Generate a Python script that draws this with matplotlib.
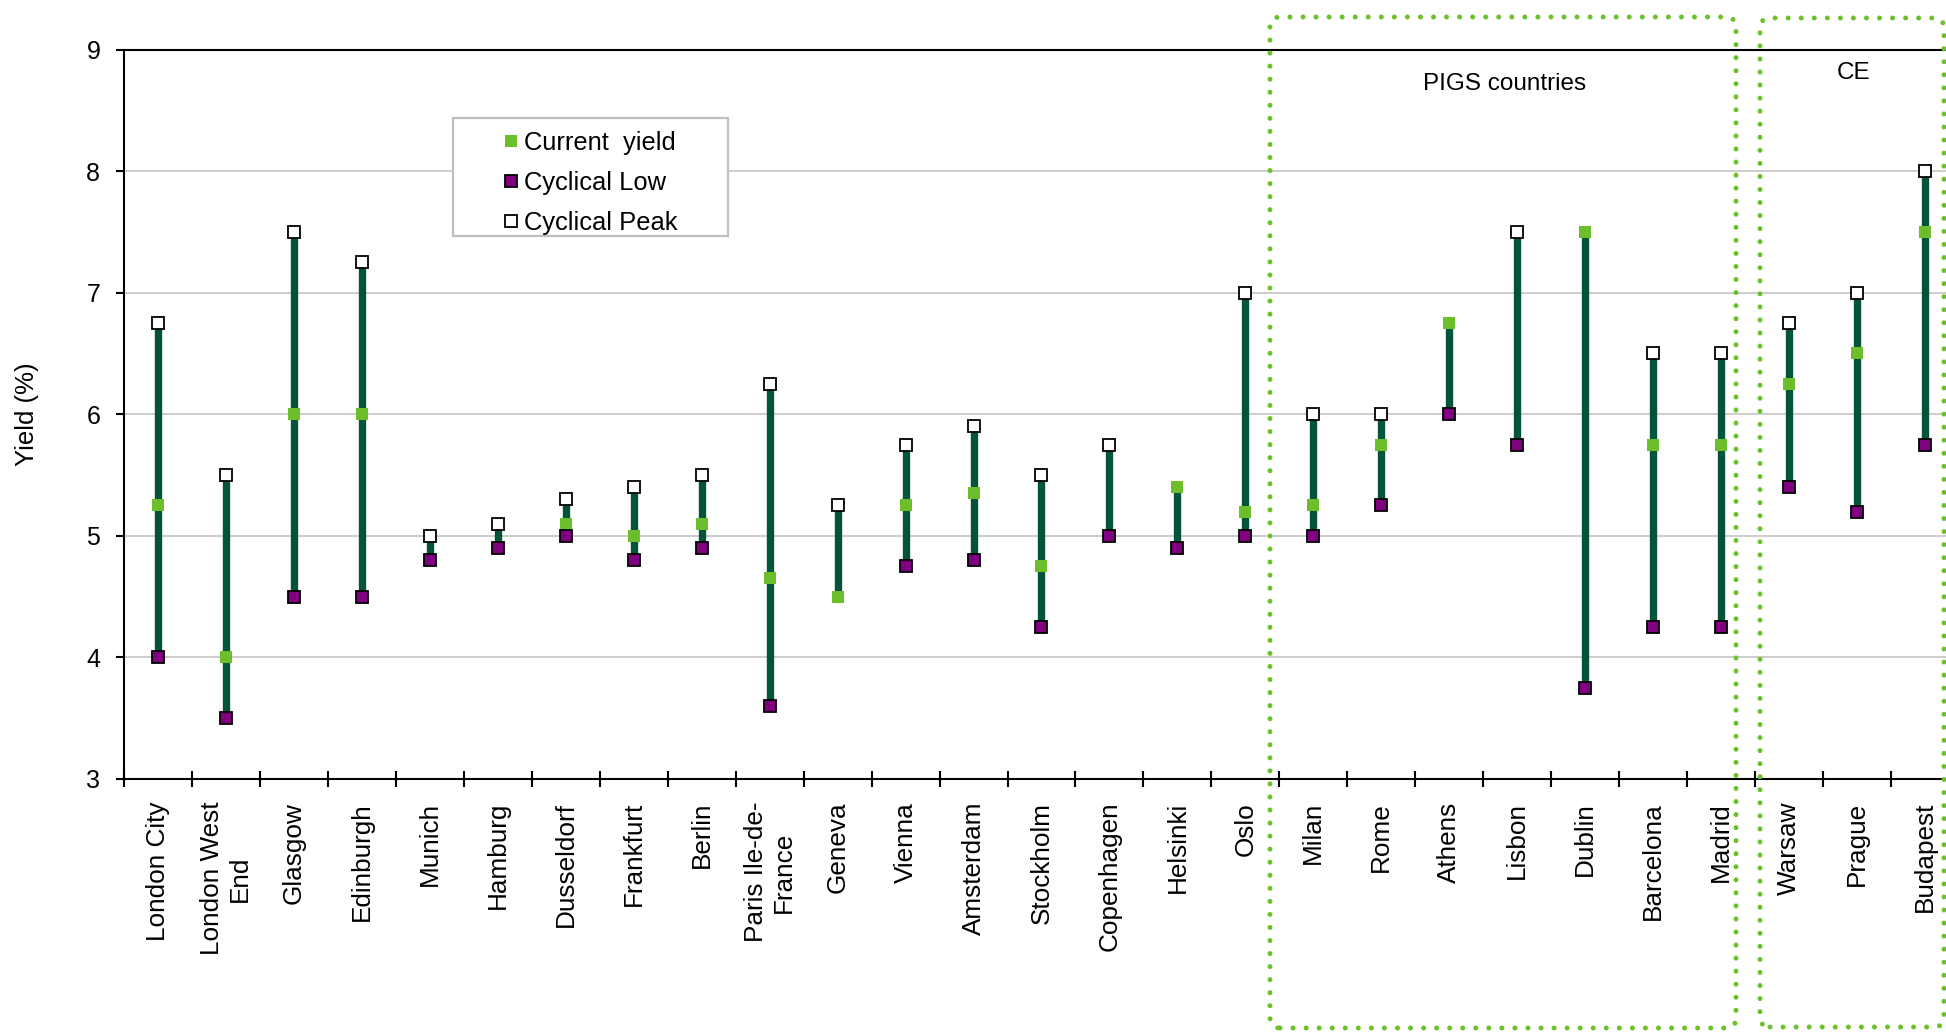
import numpy as np
import matplotlib.pyplot as plt
from matplotlib.lines import Line2D
from matplotlib.patches import FancyBboxPatch, Rectangle

plt.rcParams['font.family'] = ['Liberation Sans', 'DejaVu Sans']   # 类似 Arial 的字体

#数据
cities = ['London City', 'London West\nEnd', 'Glasgow', 'Edinburgh', 'Munich', 'Hamburg',
          'Dusseldorf', 'Frankfurt', 'Berlin', 'Paris Ile-de-\nFrance', 'Geneva', 'Vienna',
          'Amsterdam', 'Stockholm', 'Copenhagen', 'Helsinki', 'Oslo', 'Milan', 'Rome',
          'Athens', 'Lisbon', 'Dublin', 'Barcelona', 'Madrid', 'Warsaw', 'Prague', 'Budapest']
nan = np.nan
current_yield = [5.25, 4.0, 6.0, 6.0, nan, nan, 5.1, 5.0, 5.1, 4.65, 4.5, 5.25, 5.35, 4.75,
                 nan, 5.4, 5.2, 5.25, 5.75, 6.75, nan, 7.5, 5.75, 5.75, 6.25, 6.5, 7.5]
cyclical_low = [4.0, 3.5, 4.5, 4.5, 4.8, 4.9, 5.0, 4.8, 4.9, 3.6, nan, 4.75, 4.8, 4.25,
                5.0, 4.9, 5.0, 5.0, 5.25, 6.0, 5.75, 3.75, 4.25, 4.25, 5.4, 5.2, 5.75]
cyclical_peak = [6.75, 5.5, 7.5, 7.25, 5.0, 5.1, 5.3, 5.4, 5.5, 6.25, 5.25, 5.75, 5.9, 5.5,
                 5.75, nan, 7.0, 6.0, 6.0, nan, 7.5, nan, 6.5, 6.5, 6.75, 7.0, 8.0]
series_names = ['Current  yield', 'Cyclical Low', 'Cyclical Peak']
y_ticks = [3, 4, 5, 6, 7, 8, 9]
group_names = ['PIGS countries', 'CE']

#画图
fig = plt.figure(figsize=(19.46, 10.32), dpi=100)
ax = fig.add_axes([0.0637, 0.2452, 0.9430, 0.7068])

x = np.arange(len(cities)) + 0.5   # 类别中心
cur = np.array(current_yield, dtype=float)
low = np.array(cyclical_low, dtype=float)
peak = np.array(cyclical_peak, dtype=float)
allv = np.vstack([cur, low, peak])
ax.vlines(x, np.nanmin(allv, axis=0), np.nanmax(allv, axis=0), color='#03543A', linewidth=5.3, zorder=3)   # 高低线

ax.plot(x, cur, 's', color='#6CBF2A', markersize=9, markeredgewidth=0, zorder=4)
ax.plot(x, low, 's', markerfacecolor='#800080', markeredgecolor='black', markersize=8.3, markeredgewidth=1.3, zorder=5)
ax.plot(x, peak, 's', markerfacecolor='white', markeredgecolor='black', markersize=8.3, markeredgewidth=1.3, zorder=5)

#坐标轴
ax.set_xlim(0, len(cities))
ax.set_ylim(3, 9)
ax.set_yticks(y_ticks)
ax.tick_params(axis='y', direction='out', length=6, width=1.5, pad=11, labelsize=18)
ax.yaxis.grid(True, color='#C0C0C0', linewidth=1.1)
ax.set_axisbelow(True)
ax.set_xticks(x)
ax.set_xticklabels(cities, rotation=90, va='top', ha='center', multialignment='center', fontsize=18.8)
ax.set_xticks(np.arange(len(cities) + 1), minor=True)
ax.tick_params(axis='x', which='major', length=0, pad=16.5)
ax.tick_params(axis='x', which='minor', direction='inout', length=11, width=1.5)
ax.spines['right'].set_visible(False)
for s in ['top', 'left', 'bottom']:
    ax.spines[s].set_linewidth(1.5)

fig.text(0.27, 10.32 - 4.14, 'Yield (%)', rotation=90, ha='center', va='center', fontsize=18.5,
         transform=fig.dpi_scale_trans)

#图例
ax.add_patch(Rectangle((0.1793, 0.7444), 0.1499, 0.1618, transform=ax.transAxes, facecolor='white',
                       edgecolor='#BFBFBF', linewidth=1.6, zorder=6))
handles = [Line2D([], [], linestyle='none', marker='s', color='#6CBF2A', markersize=9, markeredgewidth=0),
           Line2D([], [], linestyle='none', marker='s', markerfacecolor='#800080', markeredgecolor='black',
                  markersize=8.3, markeredgewidth=1.3),
           Line2D([], [], linestyle='none', marker='s', markerfacecolor='white', markeredgecolor='black',
                  markersize=8.3, markeredgewidth=1.3)]
leg = ax.legend(handles, series_names, loc='upper left', bbox_to_anchor=(0.2054, 0.888), frameon=False,
                fontsize=18.4, borderpad=0, borderaxespad=0, handlelength=0.8, handletextpad=0.1,
                labelspacing=0.62, numpoints=1)
leg.set_zorder(7)

#分组虚线框
box_col = '#6CC12A'
pigs = FancyBboxPatch((12.70, 0.04), 4.66, 10.11, boxstyle='round,pad=0,rounding_size=0.1',
                      transform=fig.dpi_scale_trans, fill=False, edgecolor=box_col, linewidth=3.6,
                      linestyle=(0, (0.01, 2.6)), capstyle='round', zorder=10)
ce = FancyBboxPatch((17.60, 0.05), 1.84, 10.09, boxstyle='round,pad=0,rounding_size=0.1',
                    transform=fig.dpi_scale_trans, fill=False, edgecolor=box_col, linewidth=3.6,
                    linestyle=(0, (0.01, 2.6)), capstyle='round', zorder=10)
fig.add_artist(pigs)
fig.add_artist(ce)
fig.text(15.05, 10.32 - 0.84, group_names[0], ha='center', va='center', fontsize=17.5, transform=fig.dpi_scale_trans)
fig.text(18.54, 10.32 - 0.73, group_names[1], ha='center', va='center', fontsize=17.5, transform=fig.dpi_scale_trans)

fig.savefig('out.png', dpi=100)
